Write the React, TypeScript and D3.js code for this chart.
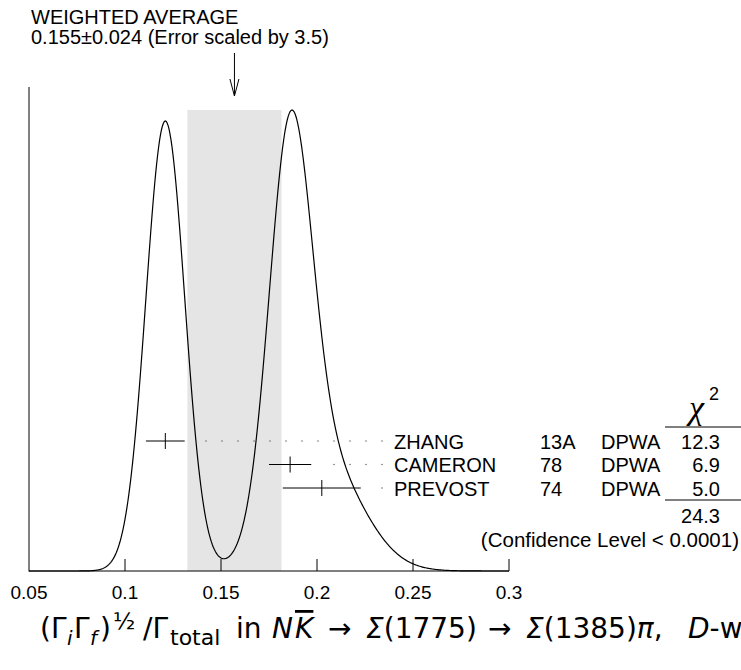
import React from 'react';
import * as d3 from 'd3';

const names = ['ZHANG', 'CAMERON', 'PREVOST'];
const refs = ['13A', '78', '74'];
const techs = ['DPWA', 'DPWA', 'DPWA'];
const values = [0.121, 0.186, 0.2025];
const errors = [0.0101, 0.011, 0.0203];
const chi2 = ['12.3', '6.9', '5.0'];
const chi2Total = '24.3';
const avgValue = 0.157;
const avgError = 0.0245;
const tickValues = [0.05, 0.1, 0.15, 0.2, 0.25, 0.3];
const tickLabels = ['0.05', '0.1', '0.15', '0.2', '0.25', '0.3'];

const width = 741;
const height = 670;
const baseY = 571;
const topY = 110;
const font = 'Liberation Sans, Arial, sans-serif';
const mathFont = 'DejaVu Sans, sans-serif';

const x = d3.scaleLinear().domain([0.05, 0.3]).range([29, 509]);

// ideogram: one gaussian per measurement, area ~ 1/sigma
const grid = d3.range(0.05, 0.30001, 0.0005);
const ideo = grid.map(v => {
    let s = 0;
    values.forEach((m, i) => {
        const z = (v - m) / errors[i];
        s += Math.exp(-0.5 * z * z) / (errors[i] * errors[i]);
    });
    return [v, s];
});
const ideoMax = d3.max(ideo, d => d[1]);
const y = d3.scaleLinear().domain([0, ideoMax]).range([baseY, topY]);
const line = d3.line().x(d => x(d[0])).y(d => y(d[1]));

const rowY = d3.scaleLinear().domain([0, 1]).range([441, 464.5]);
const labelX = 394;

const App = () => {
    const bandL = x(avgValue - avgError);
    const bandR = x(avgValue + avgError);
    const ax = x(avgValue);
    const fy = 638;

    return (
        <div style={{ position: 'absolute', left: 0, top: 0 }}>
            <svg width={width} height={height} style={{ display: 'block', background: '#fff' }} fontFamily={font}>
                <rect x={bandL} y={y(ideoMax)} width={bandR - bandL} height={baseY - y(ideoMax)} fill="#e5e5e5" />

                {/* axes */}
                <line x1={29} x2={29} y1={87} y2={baseY + 0.5} stroke="#000" />
                <line x1={29} x2={x(0.3)} y1={baseY} y2={baseY} stroke="#000" />
                {tickValues.slice(1).map((t, i) => (
                    <line key={i} x1={x(t)} x2={x(t)} y1={baseY} y2={baseY - 12} stroke="#000" />
                ))}
                {tickValues.map((t, i) => (
                    <text key={i} x={x(t)} y={599} fontSize={19} textAnchor="middle">{tickLabels[i]}</text>
                ))}

                <path d={line(ideo)} fill="none" stroke="#000" strokeWidth={1.2} />

                {/* arrow + heading */}
                <line x1={ax} x2={ax} y1={53} y2={96} stroke="#000" />
                <polyline points={`${ax - 4.5},79 ${ax},96 ${ax + 4.5},79`} fill="none" stroke="#000" />
                <text x={31} y={23.5} fontSize={20}>WEIGHTED AVERAGE</text>
                <text x={31} y={43.5} fontSize={20}>0.155±0.024 (Error scaled by 3.5)</text>

                {/* measurements */}
                {values.map((v, i) => {
                    const ry = rowY(i);
                    const right = x(v + errors[i]);
                    const dots = [];
                    for (let dx = labelX - 12; dx > right + 10; dx -= 16) dots.push(dx);
                    return (
                        <g key={i}>
                            <line x1={x(v - errors[i])} x2={right} y1={ry} y2={ry} stroke="#000" />
                            <line x1={x(v)} x2={x(v)} y1={ry - 8} y2={ry + 8} stroke="#000" />
                            {dots.map(d => <rect key={d} x={d - 0.6} y={ry - 0.6} width={1.2} height={1.2} fill="#555" />)}
                            <text x={labelX} y={ry + 7.5} fontSize={20}>{names[i]}</text>
                            <text x={540} y={ry + 7.5} fontSize={20}>{refs[i]}</text>
                            <text x={601} y={ry + 7.5} fontSize={20}>{techs[i]}</text>
                            <text x={720} y={ry + 7.5} fontSize={20} textAnchor="end">{chi2[i]}</text>
                        </g>
                    );
                })}

                {/* chi2 column */}
                <text x={689} y={419} fontSize={34} fontFamily="Liberation Serif, serif" fontStyle="italic">χ</text>
                <text x={709} y={400} fontSize={18}>2</text>
                <line x1={665} x2={741} y1={427} y2={427} stroke="#000" />
                <line x1={665} x2={741} y1={500} y2={500} stroke="#000" />
                <text x={720} y={523} fontSize={20} textAnchor="end">{chi2Total}</text>
                <text x={739} y={547} fontSize={20.5} textAnchor="end">(Confidence Level &lt; 0.0001)</text>

                {/* quantity */}
                <g fontFamily={mathFont} fontSize={28}>
                    <text x={40} y={fy}>(Γ</text>
                    <text x={67} y={fy + 7} fontSize={20} fontStyle="italic">i</text>
                    <text x={74} y={fy}>Γ</text>
                    <text x={90} y={fy + 7} fontSize={20} fontStyle="italic">f</text>
                    <text x={100} y={fy}>)</text>
                    <text x={113} y={fy - 9} fontSize={23}>½</text>
                    <text x={143} y={fy}>/Γ</text>
                    <text x={170} y={fy + 7} fontSize={22}>total</text>
                    <text x={236} y={fy}>in</text>
                    <text x={272} y={fy} fontStyle="italic">N</text>
                    <text x={295} y={fy} fontStyle="italic" textDecoration="overline">K</text>
                    <text x={328} y={fy}>→</text>
                    <text x={366} y={fy}><tspan fontStyle="italic">Σ</tspan>(1775)</text>
                    <text x={488} y={fy}>→</text>
                    <text x={526} y={fy}><tspan fontStyle="italic">Σ</tspan>(1385)<tspan fontStyle="italic">π</tspan>,</text>
                    <text x={688} y={fy}><tspan fontStyle="italic">D</tspan>-w</text>
                </g>
            </svg>
        </div>
    );
};

export default App;
